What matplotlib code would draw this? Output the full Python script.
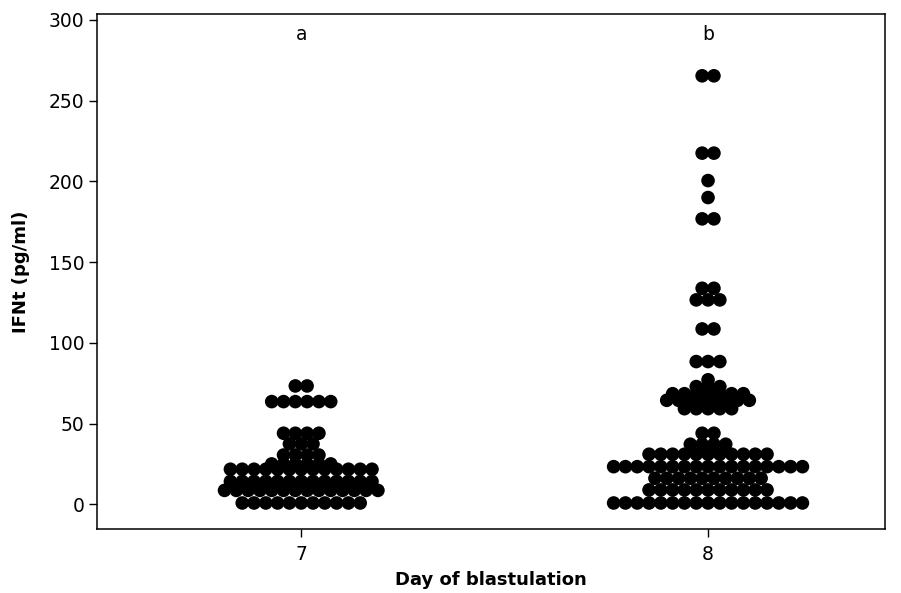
import matplotlib
matplotlib.use("Agg")
import matplotlib.pyplot as plt
import numpy as np

# Day of blastulation groups and significance letters
days = [7, 8]
group_letters = ["a", "b"]

# Binned IFNt levels (pg/ml) and number of embryos in each bin
day7_levels = [73.3, 63.6, 44.0, 37.4, 30.5, 25.0, 21.7, 14.2, 8.6, 0.8]
day7_counts = [2, 6, 4, 3, 4, 6, 13, 13, 14, 11]

day8_levels = [265.4, 217.5, 200.5, 190.0, 176.8, 133.8, 126.6, 108.6, 88.4,
               77.1, 72.9, 68.5, 64.4, 59.2, 44.0, 37.2, 31.0, 23.3, 16.1,
               8.9, 0.8]
day8_counts = [2, 2, 1, 1, 2, 2, 3, 2, 3,
               1, 3, 7, 8, 5, 2, 4, 11, 17, 10,
               11, 17]

y_ticks = [0, 50, 100, 150, 200, 250, 300]

plt.rcParams["font.family"] = ["DejaVu Sans"]

W, H = 901, 593
fig = plt.figure(figsize=(W / 100, H / 100), dpi=100)
ax_left, ax_right, ax_top, ax_bottom = 97, 885, 14.3, 529.3
ax = fig.add_axes([ax_left / W, 1 - ax_bottom / H,
                   (ax_right - ax_left) / W, (ax_bottom - ax_top) / H])
ax.set_xlim(6.498, 8.435)
ax.set_ylim(-15.5, 303.5)

# Dots in a bin are stacked side by side, centred on the group position
dot_px = 11.8
px_per_unit = ax.bbox.width / (ax.get_xlim()[1] - ax.get_xlim()[0])
step = dot_px / px_per_unit

def stack_points(center, levels, counts):
    xs, ys = [], []
    for lvl, n in zip(levels, counts):
        offs = (np.arange(n) - (n - 1) / 2.0) * step
        xs.extend(center + offs)
        ys.extend([lvl] * n)
    return xs, ys

for day, levels, counts in [(days[0], day7_levels, day7_counts),
                            (days[1], day8_levels, day8_counts)]:
    xs, ys = stack_points(day, levels, counts)
    ax.scatter(xs, ys, s=96, c="black", edgecolors="none", zorder=3)

for day, letter in zip(days, group_letters):
    ax.text(day, 291, letter, ha="center", va="center", fontsize=13.5)

ax.set_xticks(days)
ax.set_xticklabels([str(d) for d in days])
ax.set_yticks(y_ticks)
ax.tick_params(axis="both", direction="out", length=6, width=1,
               labelsize=13.5, top=False, right=False)
ax.tick_params(axis="x", pad=5)
ax.tick_params(axis="y", pad=3)
for sp in ax.spines.values():
    sp.set_linewidth(1.1)
    sp.set_color("black")

fig.text((ax_left + ax_right) / 2 / W, 1 - 580 / H, "Day of blastulation",
         ha="center", va="center", fontsize=13, fontweight="bold")
fig.text(21 / W, 1 - (ax_top + ax_bottom) / 2 / H, "IFNt (pg/ml)",
         ha="center", va="center", rotation=90, fontsize=13,
         fontweight="bold")

fig.savefig("out.png", dpi=100)
